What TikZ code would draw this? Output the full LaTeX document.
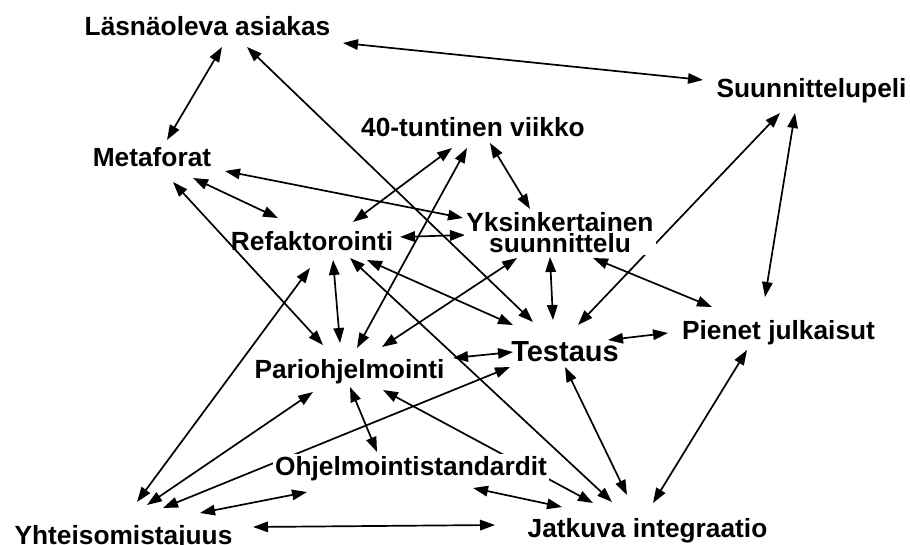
\documentclass[tikz,border=0pt]{standalone}
\usepackage{fontspec}
\setmainfont{Liberation Sans}
\usetikzlibrary{arrows.meta,backgrounds}
\begin{document}
\begin{tikzpicture}[x=1pt,y=-1pt,
  term/.style={inner sep=0pt, anchor=base, text=black,
    font=\fontsize{26.3}{21}\selectfont\bfseries},
  masked/.style={fill=white, inner xsep=2pt, inner ysep=2pt},
  link/.style={line width=1.7pt, draw=black,
    {Triangle[length=15pt,width=10.5pt]}-{Triangle[length=15pt,width=10.5pt]}},
]
\useasboundingbox (0,0) rectangle (910,545);

% practices
\node[term] (L) at (207.5,36) {Läsnäoleva asiakas};
\node[term] (S) at (811.5,98) {Suunnittelupeli};
\node[term] (V) at (473,137) {40-tuntinen viikko};
\node[term] (M) at (152,167) {Metaforat};
\node[term,masked,anchor=north,align=center] (Y) at (560,210) {Yksinkertainen\\suunnittelu};
\node[term] (R) at (312,251) {Refaktorointi};
\node[term,font=\fontsize{29}{30}\selectfont\bfseries] (T) at (565,361) {Testaus};
\node[term] (P) at (778.5,339) {Pienet julkaisut};
\node[term] (Pa) at (349.5,378) {Pariohjelmointi};
\node[term,masked] (O) at (411,475) {Ohjelmointistandardit};
\node[term] (Yh) at (123.5,544) {Yhteisomistajuus};
\node[term] (J) at (647.5,537) {Jatkuva integraatio};

\begin{pgfonlayer}{background}
\fill[white] (0,0) rectangle (910,545);
% mutual support between practices
\draw[link] ([shift={(135.5,7)}]L.base) -- ([shift={(-108.5,-18)}]S.base);
\draw[link] ([shift={(14.5,11)}]L.base) -- ([shift={(15,-27)}]M.base);
\draw[link] ([shift={(39.5,11)}]L.base) -- ([shift={(-32,-39)}]T.base);
\draw[link] ([shift={(41,11)}]M.base) -- ([shift={(-34,-33)}]R.base);
\draw[link] ([shift={(73,4)}]M.base) -- ([shift={(-97,8)}]Y.north);
\draw[link] ([shift={(21,15)}]M.base) -- ([shift={(-26.5,-33)}]Pa.base);
\draw[link] ([shift={(-21,11)}]V.base) -- ([shift={(41,-29)}]R.base);
\draw[link] ([shift={(-6,11)}]V.base) -- ([shift={(7.5,-30)}]Pa.base);
\draw[link] ([shift={(17,6)}]V.base) -- ([shift={(-30,-1)}]Y.north);
\draw[link] ([shift={(88,-14)}]R.base) -- ([shift={(-95,25)}]Y.north);
\draw[link] ([shift={(21,9)}]R.base) -- ([shift={(-9.5,-35)}]Pa.base);
\draw[link] ([shift={(-2,17)}]R.base) -- ([shift={(13.5,-42)}]Yh.base);
\draw[link] ([shift={(55,9)}]R.base) -- ([shift={(-52,-36)}]T.base);
\draw[link] ([shift={(38,7)}]R.base) -- ([shift={(-35.5,-35)}]J.base);
\draw[link] ([shift={(-43,48)}]Y.north) -- ([shift={(32.5,-31)}]Pa.base);
\draw[link] ([shift={(-10,47)}]Y.north) -- ([shift={(-12,-41)}]T.base);
\draw[link] ([shift={(33,48)}]Y.north) -- ([shift={(-66.5,-32)}]P.base);
\draw[link] ([shift={(-31.5,15)}]S.base) -- ([shift={(13,-36)}]T.base);
\draw[link] ([shift={(-16.5,15)}]S.base) -- ([shift={(-13.5,-42)}]P.base);
\draw[link] ([shift={(-52,-9)}]T.base) -- ([shift={(103.5,-20)}]Pa.base);
\draw[link] ([shift={(43,-21)}]T.base) -- ([shift={(-110.5,-6)}]P.base);
\draw[link] ([shift={(0,6)}]T.base) -- ([shift={(-20.5,-42)}]J.base);
\draw[link] ([shift={(-55,6)}]T.base) -- ([shift={(39.5,-36)}]Yh.base);
\draw[link] ([shift={(-31.5,11)}]P.base) -- ([shift={(5.5,-34)}]J.base);
\draw[link] ([shift={(0.5,9)}]Pa.base) -- ([shift={(-34,-23)}]O.base);
\draw[link] ([shift={(-36.5,14)}]Pa.base) -- ([shift={(23.5,-39)}]Yh.base);
\draw[link] ([shift={(33.5,12)}]Pa.base) -- ([shift={(-54.5,-34)}]J.base);
\draw[link] ([shift={(-104,17)}]O.base) -- ([shift={(76.5,-31)}]Yh.base);
\draw[link] ([shift={(62,13)}]O.base) -- ([shift={(-85.5,-30)}]J.base);
\draw[link] ([shift={(129.5,-17)}]Yh.base) -- ([shift={(-152.5,-12)}]J.base);
\end{pgfonlayer}
\end{tikzpicture}
\end{document}
